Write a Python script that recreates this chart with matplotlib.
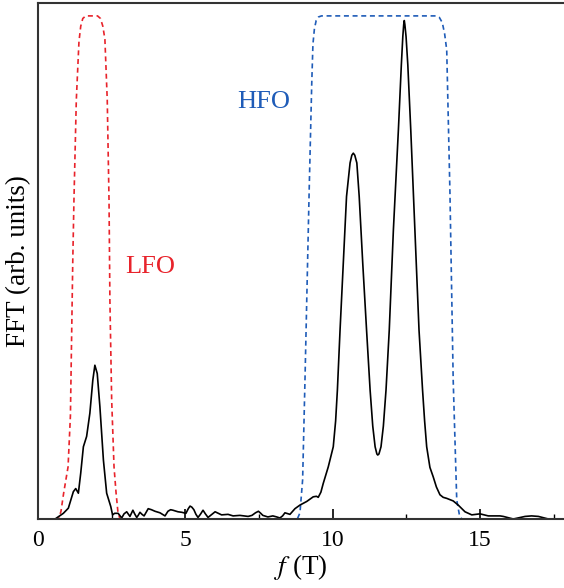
import numpy as np
import matplotlib
matplotlib.use("Agg")
import matplotlib.pyplot as plt
from matplotlib.ticker import MultipleLocator

plt.rcParams['font.family'] = ['Liberation Serif', 'DejaVu Serif']
plt.rcParams['mathtext.fontset'] = 'stix'

# FFT amplitude (black curve)
fft_x = [0.0, 0.58, 0.86, 1.03, 1.20, 1.28, 1.37, 1.45, 1.54, 1.65, 1.76, 1.86, 1.93,
         2.01, 2.10, 2.22, 2.33, 2.47, 2.53, 2.60, 2.72, 2.84, 2.92, 3.01, 3.07, 3.12,
         3.17, 3.22, 3.28, 3.35, 3.40, 3.46, 3.53, 3.60, 3.67, 3.74, 3.85, 3.97, 4.14,
         4.31, 4.41, 4.50, 4.58, 4.75, 4.88, 5.02, 5.10, 5.16, 5.22, 5.29, 5.36, 5.43,
         5.51, 5.60, 5.68, 5.77, 5.90, 6.01, 6.12, 6.23, 6.45, 6.62, 6.85, 7.13, 7.26,
         7.38, 7.48, 7.56, 7.63, 7.80, 7.97, 8.10, 8.21, 8.30, 8.38, 8.55, 8.72, 8.89,
         9.12, 9.34, 9.45, 9.51, 9.60, 9.68, 9.85, 10.02, 10.10, 10.16, 10.25, 10.36,
         10.47, 10.59, 10.65, 10.70, 10.75, 10.82, 10.90, 11.02, 11.15, 11.27, 11.36,
         11.44, 11.50, 11.53, 11.57, 11.64, 11.72, 11.81, 11.92, 12.06, 12.23, 12.33,
         12.38, 12.41, 12.43, 12.45, 12.49, 12.55, 12.65, 12.79, 12.93, 13.05, 13.12,
         13.19, 13.30, 13.41, 13.52, 13.64, 13.75, 13.87, 14.09, 14.26, 14.49, 14.72,
         15.0, 15.28, 15.50, 15.68, 15.79, 16.13, 16.53, 16.75, 16.98, 17.32, 17.9]
fft_y = [0.0, 0.0, 0.011, 0.021, 0.053, 0.059, 0.050, 0.089, 0.140, 0.160, 0.205, 0.269, 0.298,
         0.282, 0.218, 0.114, 0.050, 0.024, 0.008, 0.011, 0.011, 0.002, 0.010, 0.014, 0.009, 0.005,
         0.011, 0.017, 0.010, 0.003, 0.007, 0.013, 0.009, 0.006, 0.013, 0.020, 0.018, 0.015, 0.012,
         0.006, 0.015, 0.018, 0.017, 0.014, 0.013, 0.011, 0.020, 0.025, 0.023, 0.018, 0.009, 0.003,
         0.009, 0.017, 0.010, 0.003, 0.009, 0.014, 0.011, 0.008, 0.009, 0.006, 0.007, 0.005, 0.007,
         0.012, 0.015, 0.011, 0.007, 0.004, 0.006, 0.004, 0.002, 0.006, 0.012, 0.009, 0.020, 0.027,
         0.034, 0.043, 0.044, 0.042, 0.052, 0.069, 0.101, 0.140, 0.19, 0.25, 0.366, 0.496,
         0.625, 0.69, 0.705, 0.709, 0.705, 0.69, 0.625, 0.496, 0.366, 0.25, 0.18,
         0.14, 0.126, 0.124, 0.126, 0.14, 0.18, 0.25, 0.366, 0.56, 0.754, 0.88,
         0.935, 0.958, 0.966, 0.958, 0.935, 0.88, 0.754, 0.56, 0.366, 0.25, 0.19,
         0.140, 0.100, 0.082, 0.062, 0.047, 0.042, 0.040, 0.035, 0.027, 0.014, 0.008,
         0.010, 0.006, 0.006, 0.006, 0.005, 0.0, 0.005, 0.006, 0.005, 0.0, 0.0]

# low-frequency filter window (red)
lfo_x = [0.0, 0.70, 0.78, 0.87, 1.02, 1.10, 1.14, 1.18, 1.22, 1.30, 1.39, 1.45, 1.52, 1.62,
         2.02, 2.12, 2.20, 2.27, 2.35, 2.41, 2.44, 2.50, 2.58, 2.65, 2.71, 2.78, 17.9]
lfo_y = [0.0, 0.0, 0.015, 0.05, 0.101, 0.20, 0.35, 0.50, 0.618, 0.812, 0.925, 0.955, 0.970, 0.975,
         0.975, 0.970, 0.955, 0.930, 0.812, 0.618, 0.424, 0.231, 0.101, 0.05, 0.015, 0.0, 0.0]

# high-frequency filter window (blue)
hfo_x = [0.0, 8.80, 8.89, 8.98, 9.06, 9.20, 9.29, 9.33, 9.38, 9.44, 9.52, 9.62, 13.50,
         13.62, 13.72, 13.80, 13.87, 13.98, 14.09, 14.21, 14.30, 14.38, 17.9]
hfo_y = [0.0, 0.0, 0.012, 0.076, 0.269, 0.631, 0.845, 0.920, 0.950, 0.966, 0.973, 0.975, 0.975,
         0.972, 0.962, 0.940, 0.909, 0.631, 0.269, 0.037, 0.008, 0.0, 0.0]

red = '#e8232b'
blue = '#1f5cb8'

fig = plt.figure(figsize=(5.64, 5.88), dpi=100)
ax = fig.add_axes([38 / 564, 1 - 519 / 588, 1 - 38 / 564, 516 / 588])

ax.plot(lfo_x, lfo_y, color=red, lw=1.2, dashes=(3, 2.2))
ax.plot(hfo_x, hfo_y, color=blue, lw=1.2, dashes=(3, 2.2))
ax.plot(fft_x, fft_y, color='black', lw=1.2)

ax.text(2.95, 0.488, 'LFO', color=red, fontsize=19, va='center', ha='left')
ax.text(6.75, 0.808, 'HFO', color=blue, fontsize=19, va='center', ha='left')

ax.set_xlim(0, 17.85)
ax.set_ylim(0, 1)
ax.xaxis.set_major_locator(MultipleLocator(5))
ax.xaxis.set_minor_locator(MultipleLocator(2.5))
ax.tick_params(axis='x', which='major', direction='in', length=7, width=1.2,
               labelsize=17, pad=8, top=False)
ax.tick_params(axis='x', which='minor', direction='in', length=3.6, width=1.0, top=False)
ax.set_yticks([])
ax.spines['right'].set_visible(False)
for s in ['left', 'top', 'bottom']:
    ax.spines[s].set_linewidth(1.5)
    ax.spines[s].set_color('#333333')

ax.set_xlabel('$f$ (T)', fontsize=19.5, labelpad=1)
ax.set_ylabel('FFT (arb. units)', fontsize=19.5, labelpad=5)

fig.savefig('out.png', dpi=100)
